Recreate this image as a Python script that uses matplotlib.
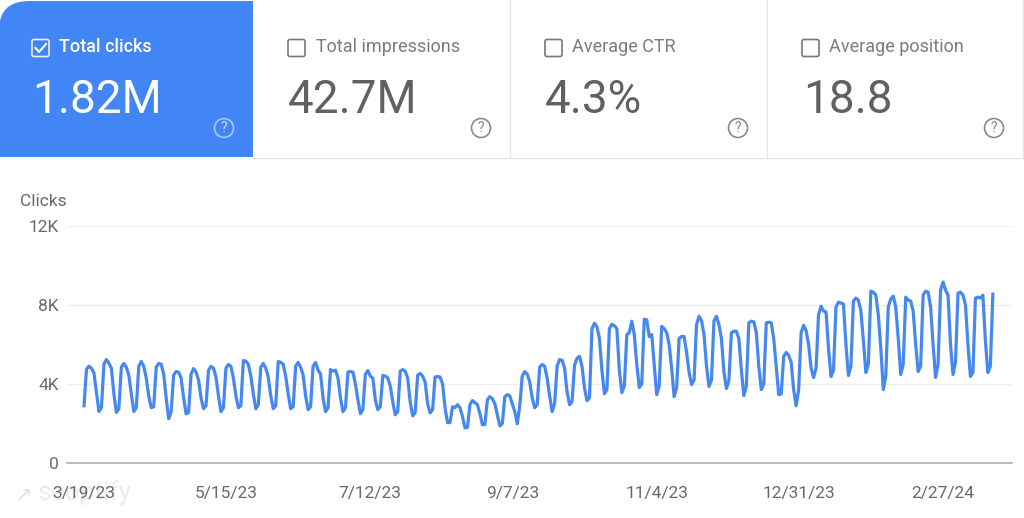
import matplotlib
matplotlib.use("Agg")
import matplotlib.pyplot as plt
from matplotlib.patches import Circle, FancyBboxPatch, PathPatch
from matplotlib.path import Path
import matplotlib.dates as mdates
import pandas as pd

plt.rcParams['font.family'] = ['Roboto', 'DejaVu Sans']

W, H = 1024, 518

start_date = "2023-03-19"
clicks = [
    2900,4750,4900,4800,4550,3600,2610,
    2800,5000,5240,5050,4800,3500,2560,
    2750,4850,5040,4850,4450,3500,2610,
    2800,4900,5140,4900,4300,3400,2800,
    2850,4850,5040,5000,4500,3300,2240,
    2600,4450,4630,4600,4300,3300,2490,
    2550,4500,4780,4600,4200,3300,2750,
    2900,4700,4890,4800,4350,3400,2600,
    2800,4800,4990,4900,4300,3400,2800,
    2900,5190,5150,5000,4400,3500,2750,
    2950,4850,5040,4800,4350,3400,2750,
    2900,5140,5100,5000,4400,3500,2750,
    2850,4900,5090,4850,4450,3400,2700,
    2850,4900,5090,4700,4500,3300,2600,
    2800,4730,4650,4700,4300,3300,2600,
    2800,4600,4630,4600,4000,3200,2500,
    2700,4500,4680,4400,4300,3200,2700,
    2850,4430,4400,4300,3900,3100,2440,
    2600,4650,4730,4650,4300,3100,2390,
    2550,4450,4530,4400,4100,3000,2540,
    2700,4350,4380,4350,4000,2800,2040,
    2050,2850,2800,2950,2800,2350,1780,
    1800,2950,3160,3050,2950,2500,1930,
    1950,3200,3360,3250,3000,2450,1880,
    2000,3350,3460,3400,3000,2600,1985,
    2900,4400,4630,4500,4100,3300,2800,
    2950,4850,4990,4900,4300,3400,2600,
    3000,4900,5240,5200,4800,3600,2950,
    3100,4950,5300,5400,4900,3800,3160,
    3300,6800,7075,6900,6300,4700,3510,
    3700,6800,7025,6950,6800,4700,3560,
    3900,6500,6600,7180,6500,5000,3820,
    4000,7280,7250,6400,6500,5000,3460,
    3900,6920,6800,6600,6000,4800,3360,
    3800,6300,6410,6400,5600,4600,3970,
    4200,7000,7430,7200,6500,4900,3870,
    4200,7200,7430,7000,6300,4600,3770,
    4200,6600,6670,6670,6300,4700,3410,
    3900,7100,7180,7150,6600,4900,3720,
    4000,7100,7130,7100,6300,4900,3460,
    3500,5400,5600,5450,5100,3700,2900,
    3700,6600,6970,6700,6000,4800,4330,
    4800,7500,7940,7700,7650,5800,4380,
    4700,7900,8140,8100,8050,6000,4430,
    4900,8200,8350,8250,7700,6200,4580,
    5000,8700,8650,8500,7500,5800,3720,
    4400,7900,8300,8450,7900,6300,4480,
    5000,8400,8250,8200,7700,6000,4630,
    4900,8500,8700,8650,7900,6000,4330,
    5000,8750,9160,8750,8500,6000,4480,
    5100,8600,8650,8500,8000,6000,4380,
    4600,8350,8400,8350,8500,6200,4580,
    4900,8550,
]
y_ticks = [0, 4000, 8000, 12000]
y_tick_labels = ["0", "4K", "8K", "12K"]
x_tick_dates = ["2023-03-19", "2023-05-15", "2023-07-12", "2023-09-07",
                "2023-11-04", "2023-12-31", "2024-02-27"]
x_tick_labels = ["3/19/23", "5/15/23", "7/12/23", "9/7/23", "11/4/23", "12/31/23", "2/27/24"]
card_titles = ["Total clicks", "Total impressions", "Average CTR", "Average position"]
card_values = ["1.82M", "42.7M", "4.3%", "18.8"]

BLUE = "#4285f4"
GREY = "#666a6e"
LINE = "#dfe1e5"

fig = plt.figure(figsize=(W / 100, H / 100), dpi=100, facecolor="white")

# Overlay in pixel coordinates for the scorecards
ov = fig.add_axes([0, 0, 1, 1])
ov.set_xlim(0, W)
ov.set_ylim(H, 0)
ov.axis("off")

# Chart axes
L, R, T, B = 67, 1012, 226, 463
ax = fig.add_axes([L / W, 1 - B / H, (R - L) / W, (B - T) / H])
ax.patch.set_alpha(0)
dates = pd.date_range(start_date, periods=len(clicks), freq="D")
d0 = mdates.date2num(pd.Timestamp(start_date))
px_per_day = 2.49
ax.set_xlim(d0 + (L - 84) / px_per_day, d0 + (R - 84) / px_per_day)
ax.set_ylim(0, 12000)
ax.plot(dates, clicks, color="#4688ef", lw=2.3, solid_joinstyle="round", zorder=3)
ax.set_yticks(y_ticks)
ax.set_yticklabels(y_tick_labels, fontsize=12.5, color=GREY)
ax.set_xticks([mdates.date2num(pd.Timestamp(d)) for d in x_tick_dates])
ax.set_xticklabels(x_tick_labels, fontsize=12.5, color=GREY)
ax.tick_params(axis="both", length=0)
ax.tick_params(axis="y", pad=6)
ax.tick_params(axis="x", pad=16.5)
ax.grid(axis="y", color="#eeeeee", lw=1)
ax.set_axisbelow(True)
for s in ["top", "left", "right"]:
    ax.spines[s].set_visible(False)
ax.spines["bottom"].set_color("#b0b0b0")
ax.spines["bottom"].set_linewidth(1.2)
ov.text(20, 202, "Clicks", fontsize=12.5, color=GREY, va="center", ha="left")

# Blue card with rounded top-left corner
verts = [(0, 157), (0, 21), (4, 1), (30, 1), (253, 1), (253, 157), (0, 157)]
codes = [Path.MOVETO, Path.LINETO, Path.CURVE3, Path.CURVE3, Path.LINETO, Path.LINETO, Path.CLOSEPOLY]
ov.add_patch(PathPatch(Path(verts, codes), facecolor=BLUE, edgecolor="none"))

# Card borders
ov.plot([253, 1024], [157.5, 157.5], color=LINE, lw=0.9)
for x in [510, 767, 1023]:
    ov.plot([x, x], [0, 157], color="#e6e7e9", lw=0.9)

box_x = [32, 288, 545, 802]
title_x = [59, 316, 572, 829]
value_x = [32, 288, 545, 803]
help_x = [224, 481, 738, 994]
for i in range(4):
    col = "white" if i == 0 else "#7a7d80"
    ov.add_patch(FancyBboxPatch((box_x[i], 39.5), 17, 17, boxstyle="round,pad=0,rounding_size=2",
                                fill=False, edgecolor="#e8f0fe" if i == 0 else "#777777", lw=1.2))
    if i == 0:
        ov.plot([box_x[i] + 3.5, box_x[i] + 7, box_x[i] + 14], [48, 52, 44], color="white", lw=1.5)
    ov.text(title_x[i], 47, card_titles[i], fontsize=13, color=col, va="center", ha="left",
            fontweight="medium" if i == 0 else "normal")
    ov.text(value_x[i], 100, card_values[i], fontsize=33, color="white" if i == 0 else "#616161",
            va="center", ha="left")
    ov.add_patch(Circle((help_x[i], 128), 9.5, fill=False,
                        edgecolor="#a9c8fa" if i == 0 else "#8a8a8a", lw=1.2))
    ov.text(help_x[i], 128.5, "?", fontsize=10, color="#c3d8fb" if i == 0 else "#8a8a8a",
            va="center", ha="center")

# Watermark
ov.text(14, 494, "\u2197", fontsize=15, color="#e2e2e2", va="center", ha="left", family="DejaVu Sans")
ov.text(38, 493, "seoptify", fontsize=19, color="#ececec", va="center", ha="left", zorder=0)

fig.savefig("out.png", dpi=100, facecolor="white")
